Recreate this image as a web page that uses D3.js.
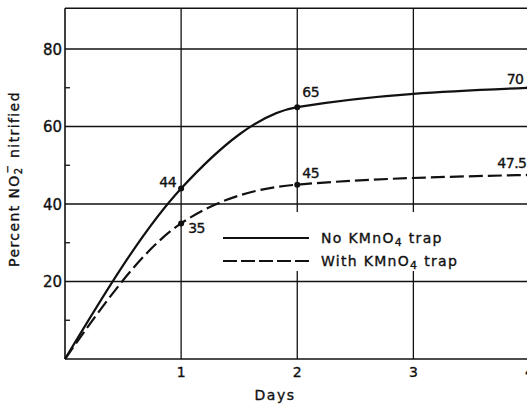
<!DOCTYPE html>
<html>
<head>
<meta charset="utf-8">
<script src="https://cdn.jsdelivr.net/npm/d3@7"></script>
<style>
  html, body { margin: 0; padding: 0; background: #fff; }
  svg { display: block; }
  text { font-family: "DejaVu Sans", sans-serif; fill: #111; stroke: #111; stroke-width: 0.35; }
</style>
</head>
<body>
<svg id="chart" width="527" height="406"></svg>
<script>
// Nitrite nitrified over time, with and without a KMnO4 trap
const days = [0, 1, 2, 4];
const noTrap = [0, 44, 65, 70];
const withTrap = [0, 35, 45, 47.5];
const noTrapLabels = ["", "44", "65", "70"];
const withTrapLabels = ["", "35", "45", "47.5"];
const xTicks = [1, 2, 3, 4];
const yTicks = [20, 40, 60, 80];
const yMinor = [10, 30, 50, 70];
const seriesNames = ["No KMnO", "With KMnO"];

const svg = d3.select("#chart");
const W = 527, H = 406;
const ink = "#111";

const x = d3.scaleLinear().domain([0, 4]).range([65, 529.5]);
const y = d3.scaleLinear().domain([0, 80]).range([359, 49]);
const yTop = y(90.5);

// grid
const grid = svg.append("g").attr("stroke", ink).attr("stroke-width", 1.3);
grid.selectAll("line.h").data(yTicks).join("line")
  .attr("x1", x(0)).attr("x2", W).attr("y1", d => y(d)).attr("y2", d => y(d));
grid.selectAll("line.v").data(xTicks.filter(d => d < 4)).join("line")
  .attr("x1", d => x(d)).attr("x2", d => x(d)).attr("y1", yTop).attr("y2", y(0));

// frame: top, left, bottom
grid.append("line").attr("x1", x(0)).attr("x2", W).attr("y1", yTop).attr("y2", yTop).attr("stroke-width", 1.6);
grid.append("line").attr("x1", x(0)).attr("x2", x(0)).attr("y1", yTop).attr("y2", y(0)).attr("stroke-width", 1.6);
grid.append("line").attr("x1", x(0)).attr("x2", W).attr("y1", y(0)).attr("y2", y(0)).attr("stroke-width", 1.6);

// minor ticks on the value axis
grid.selectAll("line.m").data(yMinor).join("line")
  .attr("x1", x(0)).attr("x2", x(0) + 5).attr("y1", d => y(d)).attr("y2", d => y(d));

// tick labels
svg.append("g").selectAll("text").data(yTicks).join("text")
  .attr("x", x(0) - 3).attr("y", d => y(d) + 5.5)
  .attr("text-anchor", "end").attr("font-size", 15).text(d => d);
svg.append("g").selectAll("text").data(xTicks).join("text")
  .attr("x", d => x(d)).attr("y", y(0) + 18)
  .attr("text-anchor", "middle").attr("font-size", 14).text(d => d);

// axis titles
svg.append("text").attr("x", 275).attr("y", 400).attr("text-anchor", "middle")
  .attr("font-size", 14).attr("letter-spacing", 1.5).text("Days");

const yt = svg.append("text")
  .attr("transform", `translate(19,${179}) rotate(-90)`)
  .attr("text-anchor", "middle").attr("font-size", 14).attr("letter-spacing", 1.4);
yt.append("tspan").text("Percent NO");
yt.append("tspan").attr("font-size", 10).attr("dy", 3).text("2");
yt.append("tspan").attr("font-size", 10).attr("dx", -7).attr("dy", -11).text("−");
yt.append("tspan").attr("dy", 8).text(" nitrified");

// curves
const line = d3.line().curve(d3.curveMonotoneX).x(d => x(d[0])).y(d => y(d[1]));
const solidPts = days.map((d, i) => [d, noTrap[i]]);
const dashPts = days.map((d, i) => [d, withTrap[i]]);

svg.append("path").datum(solidPts).attr("d", line)
  .attr("fill", "none").attr("stroke", ink).attr("stroke-width", 2.2);
svg.append("path").datum(dashPts).attr("d", line)
  .attr("fill", "none").attr("stroke", ink).attr("stroke-width", 2.2)
  .attr("stroke-dasharray", "14,5");

// data points
const pts = solidPts.slice(1).concat(dashPts.slice(1));
svg.append("g").selectAll("circle").data(pts).join("circle")
  .attr("cx", d => x(d[0])).attr("cy", d => y(d[1])).attr("r", 3).attr("fill", ink);

// value labels
const lab = svg.append("g").attr("font-size", 14);
const place = [
  { p: solidPts[1], t: noTrapLabels[1], dx: -5, dy: -2, a: "end" },
  { p: solidPts[2], t: noTrapLabels[2], dx: 5, dy: -10, a: "start" },
  { p: solidPts[3], t: noTrapLabels[3], dx: -6, dy: -4, a: "end" },
  { p: dashPts[1], t: withTrapLabels[1], dx: 7, dy: 10, a: "start" },
  { p: dashPts[2], t: withTrapLabels[2], dx: 5, dy: -7, a: "start" },
  { p: dashPts[3], t: withTrapLabels[3], dx: -3, dy: -7, a: "end" }
];
lab.selectAll("text").data(place).join("text")
  .attr("x", d => x(d.p[0]) + d.dx).attr("y", d => y(d.p[1]) + d.dy)
  .attr("text-anchor", d => d.a).attr("letter-spacing", -0.5).text(d => d.t);

// legend
const lg = svg.append("g");
lg.append("rect").attr("x", 212).attr("y", 212).attr("width", W - 212).attr("height", 59).attr("fill", "#fff");
const rows = [{ y: 238, dash: null }, { y: 261, dash: "14,4" }];
rows.forEach((r, i) => {
  lg.append("line").attr("x1", 223).attr("x2", 309).attr("y1", r.y).attr("y2", r.y)
    .attr("stroke", ink).attr("stroke-width", 2.2).attr("stroke-dasharray", r.dash);
  const t = lg.append("text").attr("x", 321).attr("y", r.y + 5).attr("font-size", 14).attr("letter-spacing", 1.3);
  t.append("tspan").text(seriesNames[i]);
  t.append("tspan").attr("font-size", 11).attr("dy", 3).text("4");
  t.append("tspan").attr("dy", -3).text(" trap");
});
</script>
</body>
</html>
